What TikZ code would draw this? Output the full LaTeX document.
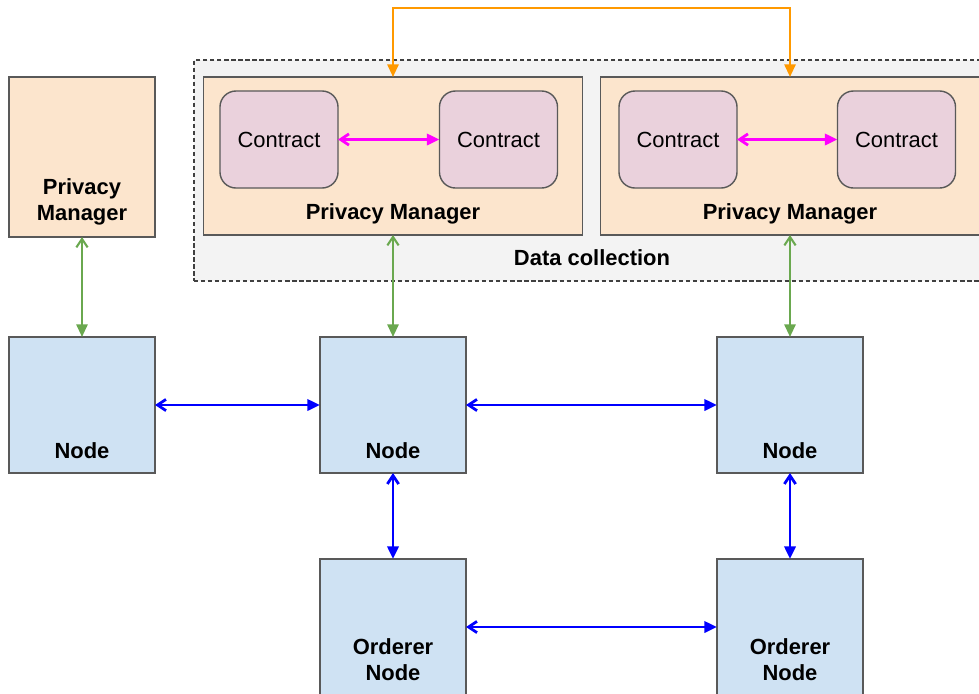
\documentclass[tikz,border=0pt]{standalone}
\usepackage{fontspec}
\setmainfont{Liberation Sans}
\usetikzlibrary{arrows.meta}
\definecolor{pmfill}{HTML}{FCE5CD}
\definecolor{nodefill}{HTML}{CFE2F3}
\definecolor{ctfill}{HTML}{EAD1DC}
\definecolor{dcfill}{HTML}{F3F3F3}
\definecolor{edge}{HTML}{595959}
\definecolor{pmlink}{HTML}{6AA84F}
\definecolor{ctlink}{HTML}{FF00FF}
\definecolor{peerlink}{HTML}{0000FF}
\definecolor{syncline}{HTML}{FF9900}
\def\diafont{\fontsize{15.6}{18.5}\selectfont}
\tikzset{
	box/.style={draw=edge, line width=1pt, inner sep=0pt, outer sep=0pt},
	pmbox/.style={box, fill=pmfill},
	peerbox/.style={box, fill=nodefill, minimum width=3.65cm, minimum height=3.4cm},
	contractbox/.style={box, fill=ctfill, rounded corners=0.4cm, minimum width=2.95cm, minimum height=2.425cm},
	tag/.style={font=\diafont\bfseries, align=center, anchor=center},
	twoway/.style={{Straight Barb[length=6pt,width=8pt]}-{Triangle[length=9pt,width=8pt]}, line width=2pt},
}

\begin{document}
\begin{tikzpicture}[x=0.025cm, y=-0.025cm, every node/.style={font=\diafont}]
			%%%%% START %%%%%
			\useasboundingbox (0,0) rectangle (979,693);
			\clip (0,0) rectangle (979,693);
			
			\node[box, fill=dcfill, draw=black!75, dash pattern=on 3pt off 2pt, minimum width=19.9cm, minimum height=5.525cm, label={[tag, yshift=0.575cm]south:Data collection}] (dc) at (592,170.5) {};
			
			\node[pmbox, minimum width=3.65cm, minimum height=4cm, label={[tag, yshift=0.875cm]south:Privacy\\Manager}] (pm0) at (82,157) {};
			\node[pmbox, minimum width=9.475cm, minimum height=3.95cm, label={[tag, yshift=0.525cm]south:Privacy Manager}] (pm1) at (393,156) {};
			\node[pmbox, minimum width=9.475cm, minimum height=3.95cm, label={[tag, yshift=0.525cm]south:Privacy Manager}] (pm2) at (790,156) {};
			
			\node[contractbox] (ct1) at (279,139.5) {Contract};
			\node[contractbox] (ct2) at (498.5,139.5) {Contract};
			\node[contractbox] (ct3) at (678,139.5) {Contract};
			\node[contractbox] (ct4) at (896.5,139.5) {Contract};
			
			\node[peerbox, label={[tag, yshift=0.55cm]south:Node}] (n0) at (82,405) {};
			\node[peerbox, label={[tag, yshift=0.55cm]south:Node}] (n1) at (393,405) {};
			\node[peerbox, label={[tag, yshift=0.55cm]south:Node}] (n2) at (790,405) {};
			
			\node[peerbox, label={[tag, yshift=0.875cm]south:Orderer\\Node}] (o1) at (393,627) {};
			\node[peerbox, label={[tag, yshift=0.875cm]south:Orderer\\Node}] (o2) at (790,627) {};
			
			% links
			\draw[twoway, ctlink] (ct1) -- (ct2);
			\draw[twoway, ctlink] (ct3) -- (ct4);
			
			\draw[twoway, pmlink, line width=1.5pt] (pm0) -- (n0);
			\draw[twoway, pmlink, line width=1.5pt] (pm1) -- (n1);
			\draw[twoway, pmlink, line width=1.5pt] (pm2) -- (n2);
			
			\draw[twoway, peerlink] (n0) -- (n1);
			\draw[twoway, peerlink] (n1) -- (n2);
			\draw[twoway, peerlink] (n1) -- (o1);
			\draw[twoway, peerlink] (n2) -- (o2);
			\draw[twoway, peerlink] (o1) -- (o2);
			
			\draw[syncline, line width=1.5pt, {Triangle[length=9pt,width=8pt]}-{Triangle[length=9pt,width=8pt]}] (pm1.north) -- ++(0,-69) -| (pm2.north);
			%%%%% END %%%%%
\end{tikzpicture}
\end{document}
